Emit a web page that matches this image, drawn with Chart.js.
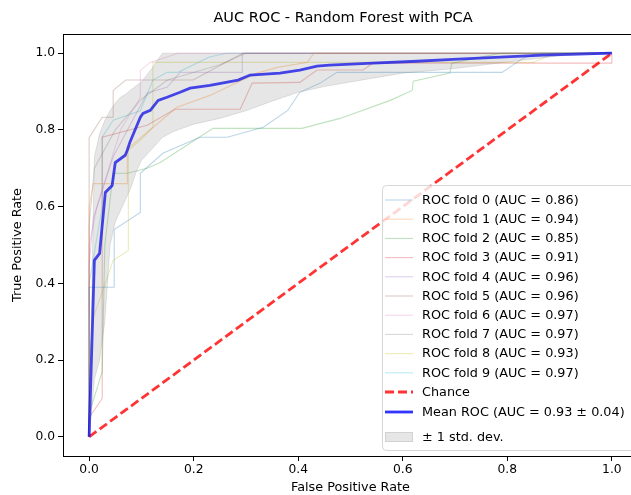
<!DOCTYPE html>
<html><head><meta charset="utf-8">
<script src="https://cdn.jsdelivr.net/npm/chart.js@4"></script>
<style>html,body{margin:0;padding:0;background:#fff;overflow:hidden}#wrap{width:640px;height:495px}</style>
</head><body><div id="wrap"><canvas id="c" width="640" height="495"></canvas></div>
<script>
// ---------------- DATA ----------------
const fold0Fpr = [0,0,0.048,0.048,0.098,0.098,0.141,0.212,0.264,0.333,0.38,0.403,0.442,0.474,0.79,0.83,0.86,1];
const fold0Tpr = [0,0.39,0.39,0.54,0.585,0.687,0.739,0.781,0.781,0.807,0.851,0.898,0.922,0.95,0.95,0.987,1,1];
const fold1Fpr = [0,0,0.008,0.073,0.073,0.168,0.231,0.321,0.36,0.417,0.43,1];
const fold1Tpr = [0,0.6,0.66,0.66,0.75,0.859,0.89,0.948,0.963,0.976,1,1];
const fold2Fpr = [0,0,0.025,0.03,0.046,0.073,0.111,0.136,0.237,0.407,0.48,0.576,0.618,0.62,0.69,0.694,0.786,1];
const fold2Tpr = [0,0.06,0.17,0.5,0.687,0.687,0.70,0.715,0.804,0.804,0.83,0.877,0.903,0.927,0.948,0.974,1,1];
const fold3Fpr = [0,0,0.025,0.025,0.111,0.164,0.289,0.312,0.403,0.436,0.524,0.543,1,1];
const fold3Tpr = [0,0.05,0.1,0.781,0.812,0.854,0.854,0.922,0.924,0.956,0.956,0.974,0.974,1];
const fold4Fpr = [0,0,0.008,0.046,0.111,0.149,0.174,0.293,0.293,1];
const fold4Tpr = [0,0.45,0.57,0.73,0.896,0.911,0.95,0.95,1,1];
const fold5Fpr = [0,0,0.025,0.046,0.046,0.07,0.199,0.294,1];
const fold5Tpr = [0,0.78,0.833,0.833,0.903,0.93,0.93,1,1];
const fold6Fpr = [0,0,0.015,0.06,0.098,0.098,0.117,0.17,1];
const fold6Tpr = [0,0.5,0.6,0.8,0.885,0.955,0.976,1,1];
const fold7Fpr = [0,0,0.01,0.05,0.1,0.15,0.25,0.3,1];
const fold7Tpr = [0,0.55,0.7,0.8,0.88,0.93,0.97,1,1];
const fold8Fpr = [0,0,0.008,0.046,0.075,0.075,0.098,0.122,0.122,0.85,0.89,1];
const fold8Tpr = [0,0.19,0.31,0.46,0.486,0.747,0.773,0.807,0.976,0.976,1,1];
const fold9Fpr = [0,0,0.025,0.025,0.046,0.098,0.122,0.149,0.17,0.23,0.263,1];
const fold9Tpr = [0,0.4,0.6,0.781,0.825,0.85,0.93,0.95,0.95,0.99,1,1];
const foldAuc = [0.86,0.94,0.85,0.91,0.96,0.96,0.97,0.97,0.93,0.97];

const meanFpr = [0,0.010,0.020,0.031,0.044,0.050,0.069,0.073,0.078,0.082,0.098,0.103,0.117,0.132,0.149,0.174,0.193,0.231,0.285,0.308,0.365,0.403,0.436,0.46,0.543,0.627,0.696,0.868,1.0];
const meanTpr = [0,0.46,0.478,0.637,0.655,0.715,0.734,0.747,0.768,0.781,0.833,0.843,0.851,0.877,0.885,0.898,0.909,0.916,0.93,0.943,0.948,0.956,0.966,0.969,0.974,0.979,0.984,0.995,1.0];
const meanAuc = 0.93;
const stdAuc = 0.04;

const bandFpr   = [0,0.01,0.02,0.03,0.04,0.05,0.06,0.07,0.08,0.09,0.10,0.12,0.14,0.16,0.18,0.20,0.25,0.30,0.35,0.40,0.45,0.50,0.60,0.70,0.80,0.90,1.0];
const bandUpper = [0,0.73,0.79,0.825,0.85,0.87,0.885,0.893,0.905,0.915,0.925,0.96,1,1,1,1,1,1,1,1,1,1,1,1,1,1,1];
const bandLower = [0,0.15,0.2,0.3,0.5,0.56,0.59,0.62,0.65,0.69,0.72,0.75,0.78,0.795,0.805,0.815,0.83,0.85,0.875,0.898,0.913,0.925,0.948,0.96,0.977,0.993,1.0];

const chanceFpr = [0,1];
const chanceTpr = [0,1];

const tickValues = [0,0.2,0.4,0.6,0.8,1.0];
const tickLabels = ['0.0','0.2','0.4','0.6','0.8','1.0'];
const titleText = 'AUC ROC - Random Forest with PCA';

// ---------------- STYLE ----------------
const FONT = 'DejaVu Sans';
const foldColors = ['#1f77b4','#ff7f0e','#2ca02c','#d62728','#9467bd','#8c564b','#e377c2','#7f7f7f','#bcbd22','#17becf'];
function rgba(hex,a){const n=parseInt(hex.slice(1),16);return `rgba(${n>>16&255},${n>>8&255},${n&255},${a})`;}
const pts = (xs,ys)=>xs.map((x,i)=>({x:x,y:ys[i]}));

const foldFpr = [fold0Fpr,fold1Fpr,fold2Fpr,fold3Fpr,fold4Fpr,fold5Fpr,fold6Fpr,fold7Fpr,fold8Fpr,fold9Fpr];
const foldTpr = [fold0Tpr,fold1Tpr,fold2Tpr,fold3Tpr,fold4Tpr,fold5Tpr,fold6Tpr,fold7Tpr,fold8Tpr,fold9Tpr];

const BAND_COLOR = 'rgba(128,128,128,0.2)';
const MEAN_COLOR = 'rgba(0,0,255,0.8)';
const CHANCE_COLOR = 'rgba(255,0,0,0.8)';
const CHANCE_DASH = [9,4];
const BOLD_W = 2.8;

const datasets = [
  {label:'± 1 std. dev.', data:pts(bandFpr,bandUpper), borderColor:BAND_COLOR, borderWidth:1, backgroundColor:BAND_COLOR, fill:1, order:0},
  {label:'band lower', data:pts(bandFpr,bandLower), borderColor:BAND_COLOR, borderWidth:1, fill:false, order:0},
  {label:`Mean ROC (AUC = ${meanAuc.toFixed(2)} ± ${stdAuc.toFixed(2)})`, data:pts(meanFpr,meanTpr), borderColor:MEAN_COLOR, borderWidth:BOLD_W, fill:false, order:1},
  {label:'Chance', data:pts(chanceFpr,chanceTpr), borderColor:CHANCE_COLOR, borderWidth:BOLD_W, borderDash:CHANCE_DASH, fill:false, order:2}
];
foldFpr.forEach((f,i)=>{
  datasets.push({label:`ROC fold ${i} (AUC = ${foldAuc[i].toFixed(2)})`, data:pts(f,foldTpr[i]), borderColor:rgba(foldColors[i],0.3), borderWidth:1.1, fill:false, order:3+i});
});

// legend entries
const legendEntries = [];
foldAuc.forEach((a,i)=>legendEntries.push({type:'line', color:rgba(foldColors[i],0.3), width:1.1, text:`ROC fold ${i} (AUC = ${a.toFixed(2)})`}));
legendEntries.push({type:'line', color:CHANCE_COLOR, width:BOLD_W, dash:CHANCE_DASH, text:'Chance'});
legendEntries.push({type:'line', color:MEAN_COLOR, width:BOLD_W, text:`Mean ROC (AUC = ${meanAuc.toFixed(2)} ± ${stdAuc.toFixed(2)})`});
legendEntries.push({type:'patch', color:BAND_COLOR, text:'± 1 std. dev.'});
const legendRowY = [200,219.2,238.4,257.6,276.8,296,315.2,334.4,353.6,372.8,392,412,437];

const framePlugin = {
  id:'frame',
  afterDatasetsDraw(chart){
    const {ctx, chartArea:a} = chart;
    ctx.save();
    ctx.strokeStyle='#000'; ctx.lineWidth=1;
    ctx.strokeRect(Math.round(a.left)+0.5, Math.round(a.top)+0.5, Math.round(a.right-a.left), Math.round(a.bottom-a.top));
    ctx.restore();
  },
  afterDraw(chart){
    const ctx = chart.ctx;
    ctx.save();
    // title
    ctx.font = `14.5px "${FONT}"`;
    ctx.fillStyle='#000'; ctx.textAlign='center'; ctx.textBaseline='middle';
    ctx.fillText(titleText, 343, 18);
    ctx.textAlign='left';
    // legend box
    const x0=382.5, y0=185.5, w=300, h=265, r=4;
    ctx.beginPath();
    ctx.moveTo(x0+r,y0); ctx.lineTo(x0+w-r,y0); ctx.arcTo(x0+w,y0,x0+w,y0+r,r);
    ctx.lineTo(x0+w,y0+h-r); ctx.arcTo(x0+w,y0+h,x0+w-r,y0+h,r);
    ctx.lineTo(x0+r,y0+h); ctx.arcTo(x0,y0+h,x0,y0+h-r,r);
    ctx.lineTo(x0,y0+r); ctx.arcTo(x0,y0,x0+r,y0,r); ctx.closePath();
    ctx.fillStyle='rgba(255,255,255,0.8)'; ctx.fill();
    ctx.strokeStyle='rgba(204,204,204,0.8)'; ctx.lineWidth=1; ctx.stroke();
    ctx.font = `12.8px "${FONT}"`;
    ctx.textBaseline='middle';
    legendEntries.forEach((e,i)=>{
      const y = legendRowY[i];
      if(e.type==='line'){
        ctx.beginPath(); ctx.setLineDash(e.dash||[]);
        ctx.strokeStyle=e.color; ctx.lineWidth=e.width;
        ctx.moveTo(385,y); ctx.lineTo(413,y); ctx.stroke(); ctx.setLineDash([]);
      } else {
        ctx.fillStyle=e.color; ctx.fillRect(385,y-5,28,10);
        ctx.strokeStyle=e.color; ctx.lineWidth=1; ctx.strokeRect(385.5,y-4.5,27,9);
      }
      ctx.fillStyle='#000';
      ctx.fillText(e.text,422,y+0.5);
    });
    ctx.restore();
  }
};

const tickFont = {family:FONT, size:12.3};
const labelFont = {family:FONT, size:12.8};
new Chart(document.getElementById('c'), {
  type:'line',
  data:{datasets},
  options:{
    responsive:false, animation:false,
    layout:{padding:{left:0,right:2,top:34,bottom:0}},
    elements:{point:{radius:0,hoverRadius:0}, line:{tension:0}},
    plugins:{
      legend:{display:false}, tooltip:{enabled:false},
      filler:{drawTime:'beforeDatasetDraw'},
      title:{display:false}
    },
    scales:{
      x:{type:'linear', min:-0.05, max:1.05,
        afterBuildTicks:s=>{s.ticks=tickValues.map(v=>({value:v}));},
        afterFit:s=>{s.height=39;},
        ticks:{callback:(v,i)=>tickLabels[i], color:'#000', font:tickFont, padding:1, maxRotation:0, autoSkip:false},
        grid:{drawOnChartArea:false, drawTicks:true, tickLength:5, tickColor:'#000'},
        border:{display:true, color:'#000', width:1},
        title:{display:true, text:'False Positive Rate', color:'#000', font:labelFont, padding:{top:0,bottom:0}}
      },
      y:{type:'linear', min:-0.05, max:1.05,
        afterBuildTicks:s=>{s.ticks=tickValues.map(v=>({value:v}));},
        afterFit:s=>{s.width=63;},
        ticks:{callback:(v,i)=>tickLabels[i], color:'#000', font:tickFont, padding:3, autoSkip:false},
        grid:{drawOnChartArea:false, drawTicks:true, tickLength:5, tickColor:'#000'},
        border:{display:true, color:'#000', width:1},
        title:{display:true, text:'True Positive Rate', color:'#000', font:labelFont, padding:{top:10,bottom:0}}
      }
    }
  },
  plugins:[framePlugin]
});
</script>
</body></html>
